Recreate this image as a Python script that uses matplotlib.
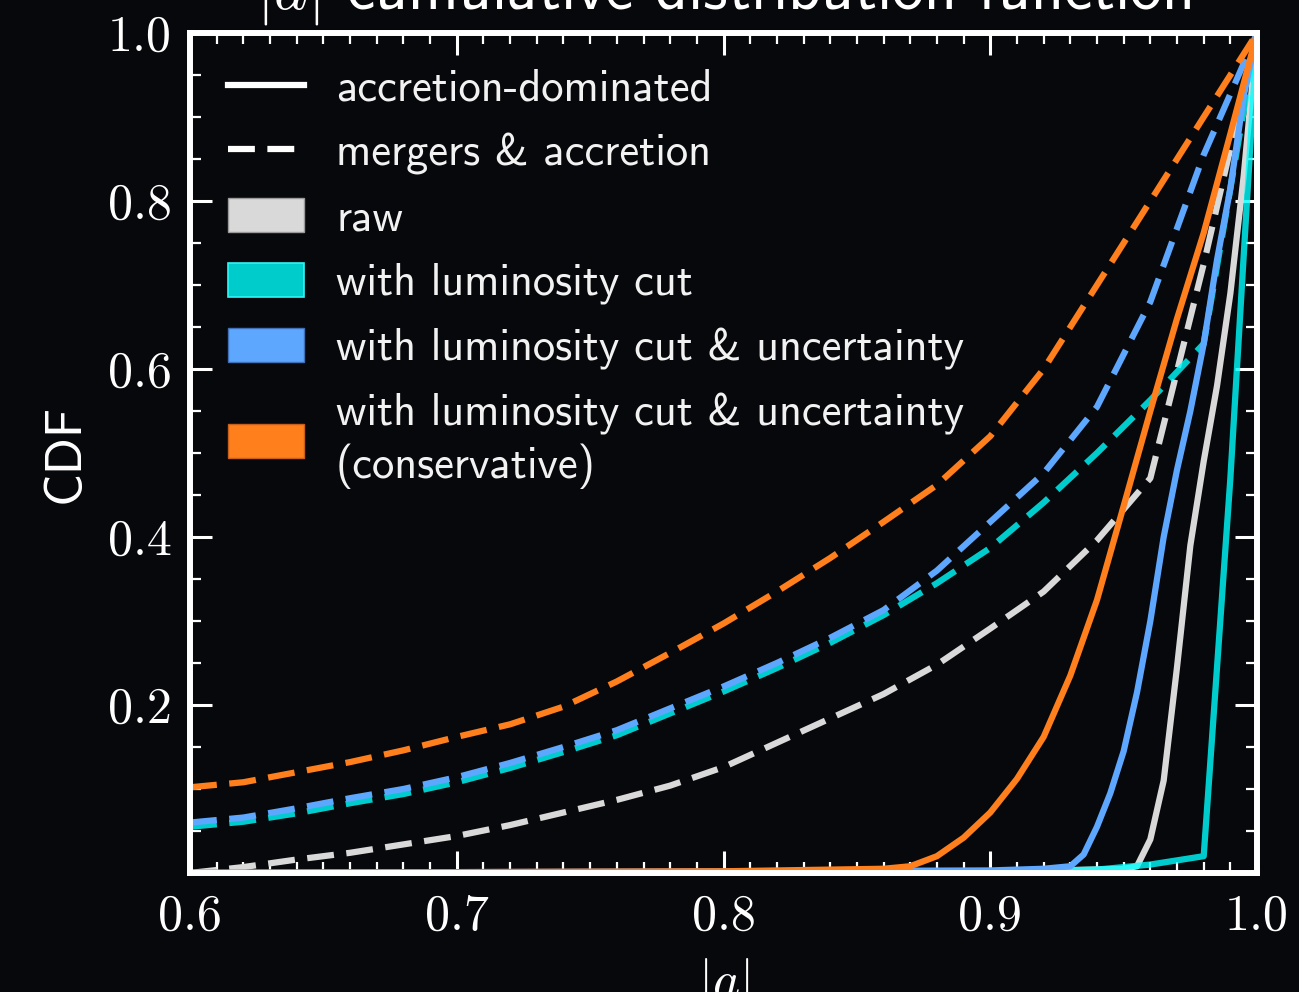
import matplotlib
matplotlib.use('Agg')
import matplotlib.pyplot as plt
from matplotlib.lines import Line2D
from matplotlib.patches import Patch

plt.rcParams['mathtext.fontset'] = 'cm'

## colores de cada conjunto
c_raw = '#d9d9d9'
c_lum = '#00ffff'   # usado com alpha 0.8
c_unc = '#5ea7ff'
c_cons = '#ff7f1c'
fundo = '#07080b'

## curvas tracejadas (mergers & accretion), grade de 0.02
x_merg = [0.60, 0.62, 0.64, 0.66, 0.68, 0.70, 0.72, 0.74, 0.76, 0.78, 0.80,
          0.82, 0.84, 0.86, 0.88, 0.90, 0.92, 0.94, 0.96, 0.98, 1.00]
raw_merg = [0.000, 0.007, 0.016, 0.024, 0.034, 0.044, 0.057, 0.072, 0.087, 0.104, 0.126,
            0.155, 0.184, 0.213, 0.248, 0.291, 0.335, 0.396, 0.470, 0.725, 1.000]
lum_merg = [0.055, 0.061, 0.071, 0.083, 0.094, 0.108, 0.125, 0.144, 0.164, 0.190, 0.216,
            0.244, 0.274, 0.307, 0.345, 0.387, 0.441, 0.500, 0.563, 0.630, 1.000]
unc_merg = [0.060, 0.066, 0.077, 0.089, 0.100, 0.114, 0.131, 0.150, 0.170, 0.196, 0.222,
            0.250, 0.280, 0.313, 0.360, 0.418, 0.476, 0.555, 0.680, 0.855, 1.000]
cons_merg = [0.102, 0.108, 0.120, 0.132, 0.146, 0.162, 0.177, 0.198, 0.228, 0.262, 0.297,
             0.335, 0.375, 0.418, 0.462, 0.520, 0.600, 0.700, 0.800, 0.900, 1.000]

## curvas solidas (accretion-dominated)
x_acc_raw = [0.60, 0.90, 0.95, 0.955, 0.96, 0.965, 0.97, 0.975, 0.98, 0.985, 0.99, 0.995, 1.00]
acc_raw = [0.0, 0.001, 0.005, 0.008, 0.040, 0.110, 0.245, 0.390, 0.490, 0.580, 0.690, 0.830, 1.0]

x_acc_lum = [0.60, 0.90, 0.94, 0.96, 0.98, 0.99, 1.00]
acc_lum = [0.0, 0.001, 0.004, 0.010, 0.020, 0.470, 1.0]

x_acc_unc = [0.60, 0.90, 0.92, 0.93, 0.935, 0.94, 0.945, 0.95, 0.955, 0.96,
             0.965, 0.97, 0.975, 0.98, 0.985, 0.99, 0.995, 1.00]
acc_unc = [0.0, 0.003, 0.005, 0.008, 0.022, 0.055, 0.095, 0.145, 0.215, 0.300,
           0.400, 0.480, 0.550, 0.630, 0.730, 0.815, 0.925, 1.0]

x_acc_cons = [0.60, 0.80, 0.86, 0.87, 0.88, 0.89, 0.90, 0.91, 0.92, 0.93,
              0.94, 0.95, 0.96, 0.97, 0.98, 0.99, 1.00]
acc_cons = [0.0, 0.002, 0.005, 0.008, 0.020, 0.042, 0.072, 0.112, 0.162, 0.235,
            0.325, 0.437, 0.550, 0.660, 0.762, 0.880, 1.0]

x_ticks = [0.6, 0.7, 0.8, 0.9, 1.0]
x_tick_labels = ['0.6', '0.7', '0.8', '0.9', '1.0']
y_ticks = [0.2, 0.4, 0.6, 0.8, 1.0]
y_tick_labels = ['0.2', '0.4', '0.6', '0.8', '1.0']

legend_labels = ['accretion-dominated', 'mergers & accretion', 'raw',
                 'with luminosity cut', 'with luminosity cut & uncertainty',
                 'with luminosity cut & uncertainty\n(conservative)']

fig = plt.figure(figsize=(12.99, 9.92), dpi=100, facecolor=fundo)
ax = fig.add_axes([0.1463, 0.12, 0.8214, 0.8467])
ax.set_facecolor(fundo)

lw = 4.5
tr = (4.3, 2.0)
ax.plot(x_merg, raw_merg, color=c_raw, lw=lw, dashes=tr)
ax.plot(x_acc_raw, acc_raw, color=c_raw, lw=lw)
ax.plot(x_merg, lum_merg, color=c_lum, alpha=0.8, lw=lw, dashes=tr)
ax.plot(x_acc_lum, acc_lum, color=c_lum, alpha=0.8, lw=lw)
ax.plot(x_merg, unc_merg, color=c_unc, lw=lw, dashes=tr)
ax.plot(x_acc_unc, acc_unc, color=c_unc, lw=lw)
ax.plot(x_merg, cons_merg, color=c_cons, lw=lw, dashes=tr)
ax.plot(x_acc_cons, acc_cons, color=c_cons, lw=lw)

ax.set_xlim(0.6, 1.0)
ax.set_ylim(0.0, 1.0)

ax.set_xticks(x_ticks)
ax.set_xticklabels(x_tick_labels, fontfamily='cmr10', fontsize=36)
ax.set_yticks(y_ticks)
ax.set_yticklabels(y_tick_labels, fontfamily='cmr10', fontsize=36)
ax.set_xticks([0.6 + 0.01 * i for i in range(41)], minor=True)
ax.set_yticks([0.05 * i for i in range(21)], minor=True)

ax.tick_params(which='both', direction='in', top=True, right=True, colors='white')
ax.tick_params(which='major', length=16, width=2.2)
ax.tick_params(which='minor', length=8, width=1.6)
ax.tick_params(axis='x', which='major', pad=15)
ax.tick_params(axis='y', which='major', pad=13)
for t in ax.get_xticklabels() + ax.get_yticklabels():
    t.set_color('white')

for s in ax.spines.values():
    s.set_color('white')
    s.set_linewidth(4.3)

ax.set_ylabel('CDF', fontfamily='cmss10', fontsize=37, color='white', labelpad=14)
ax.set_xlabel(r'$|a|$', fontsize=37, color='white', labelpad=12)
ax.set_title(r'$|a|$ cumulative distribution function', fontfamily='cmss10',
             fontsize=46, color='white', pad=18)

## legenda
handles = [Line2D([], [], color='white', lw=lw),
           Line2D([], [], color='white', lw=lw, dashes=tr),
           Patch(facecolor=c_raw, edgecolor='#9a9a9a', lw=1),
           Patch(facecolor='#00cccc', edgecolor='#30f5f5', lw=1.2),
           Patch(facecolor=c_unc, edgecolor='#3f70b8', lw=1),
           Patch(facecolor=c_cons, edgecolor='#c8601a', lw=1)]
leg = ax.legend(handles, legend_labels, loc='upper left', bbox_to_anchor=(0.036, 0.958),
                frameon=False, prop={'family': 'cmss10', 'size': 32},
                handlelength=1.7, handleheight=0.8, handletextpad=0.72,
                labelspacing=0.52, borderpad=0, borderaxespad=0)
for t in leg.get_texts():
    t.set_color('#f2f2f2')
    t.set_linespacing(1.26)

fig.savefig('out.png', dpi=100, facecolor=fundo)
